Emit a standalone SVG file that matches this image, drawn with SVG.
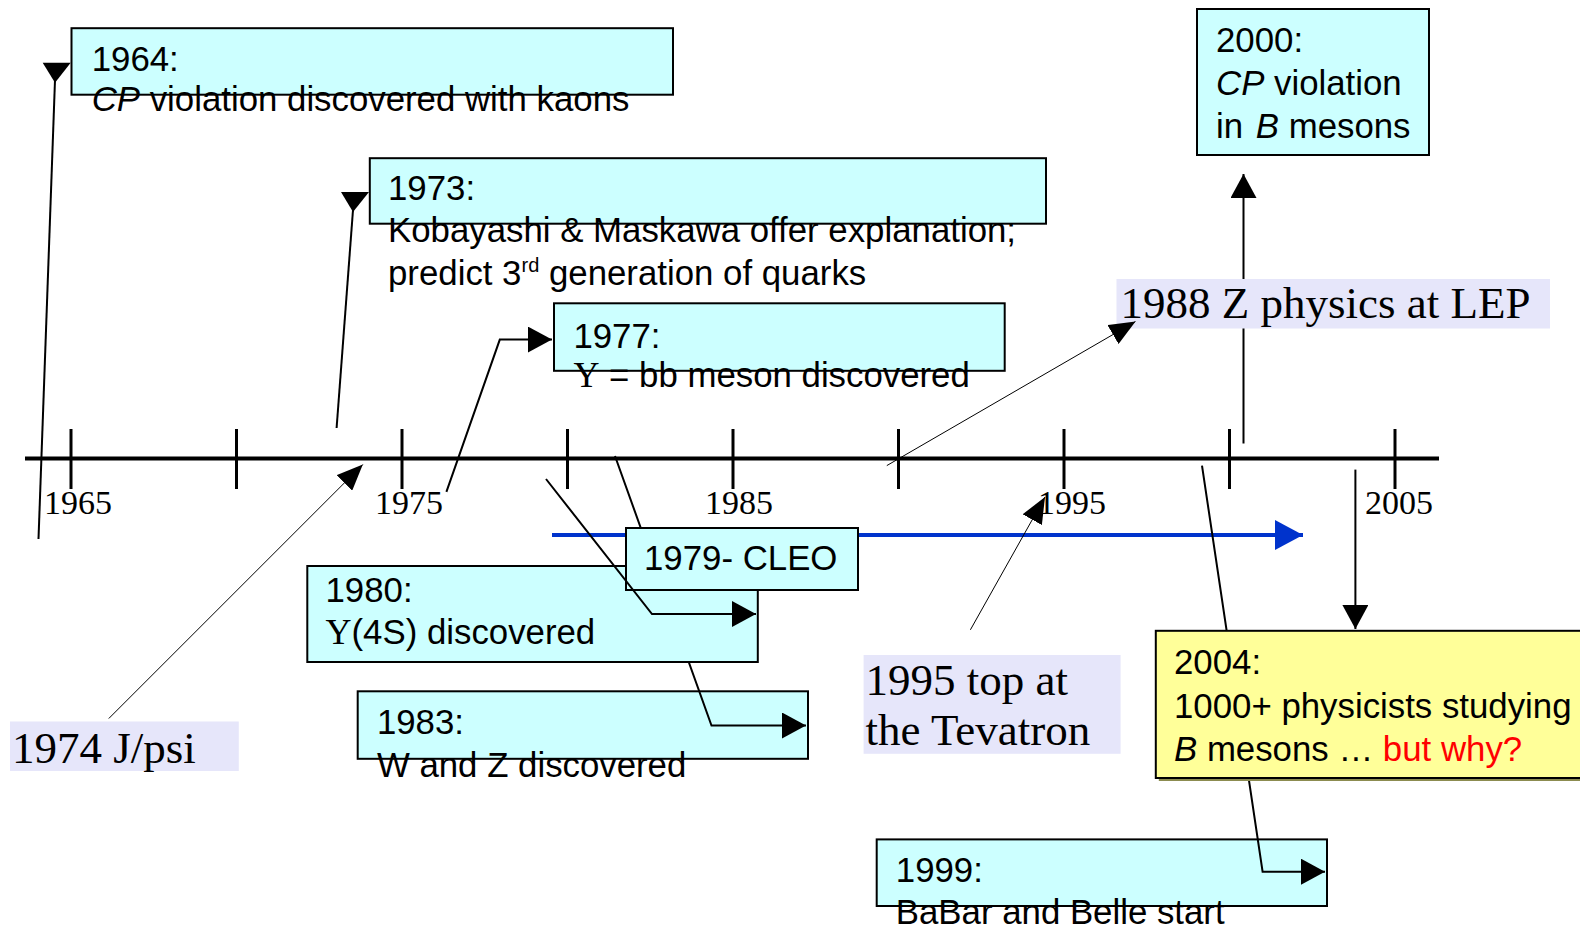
<svg xmlns="http://www.w3.org/2000/svg" width="1580" height="928" viewBox="0 0 1580 928">
<defs>
<style>
.box{fill:#CCFFFF;stroke:#000;stroke-width:2}
.ybox{fill:#FFFF99;stroke:#000;stroke-width:2}
.lab{fill:#E6E6FA;stroke:none}
.sans{font-family:"Liberation Sans",Arial,sans-serif;font-size:34.8px;fill:#000}
.serif{font-family:"Liberation Serif","Times New Roman",serif;fill:#000}
.big{font-size:45px}
.axl{font-size:34px}
.conn{fill:none;stroke:#000;stroke-width:2}
.thin{fill:none;stroke:#000;stroke-width:1}
.tick{stroke:#000;stroke-width:3}
</style>
<marker id="ah" markerUnits="userSpaceOnUse" markerWidth="24" markerHeight="26" viewBox="0 0 24 26" refX="24" refY="13" orient="auto"><path d="M0,0 L24,13 L0,26 z" fill="#000"/></marker>
<marker id="ahThin" markerUnits="userSpaceOnUse" markerWidth="26" markerHeight="22" viewBox="0 0 26 22" refX="26" refY="11" orient="auto"><path d="M0,0 L26,11 L0,22 z" fill="#000"/></marker>
<marker id="ahBlue" markerUnits="userSpaceOnUse" markerWidth="28" markerHeight="30" viewBox="0 0 28 30" refX="28" refY="15" orient="auto"><path d="M0,0 L28,15 L0,30 z" fill="#0033CC"/></marker>
</defs>
<rect width="1580" height="928" fill="#fff"/>

<g id="axis">
<line x1="25" y1="458.5" x2="1439" y2="458.5" stroke="#000" stroke-width="4"/>
<line class="tick" x1="71" y1="429" x2="71" y2="489"/>
<line class="tick" x1="236.5" y1="429" x2="236.5" y2="489"/>
<line class="tick" x1="402" y1="429" x2="402" y2="489"/>
<line class="tick" x1="567.5" y1="429" x2="567.5" y2="489"/>
<line class="tick" x1="733" y1="429" x2="733" y2="489"/>
<line class="tick" x1="898.5" y1="429" x2="898.5" y2="489"/>
<line class="tick" x1="1064" y1="429" x2="1064" y2="489"/>
<line class="tick" x1="1229.5" y1="429" x2="1229.5" y2="489"/>
<line class="tick" x1="1395" y1="429" x2="1395" y2="489"/>
<text class="serif axl" x="44" y="514">1965</text>
<text class="serif axl" x="375" y="514">1975</text>
<text class="serif axl" x="705" y="514">1985</text>
<text class="serif axl" x="1038" y="514">1995</text>
<text class="serif axl" x="1365" y="514">2005</text>
</g>

<g id="connectors">
<line class="conn" x1="38.5" y1="539" x2="55" y2="80"/>
<polygon points="42.7,62.7 70.7,62.7 55,82.7" fill="#000"/>
<line class="conn" x1="336.6" y1="428" x2="353" y2="210"/>
<polygon points="341,192 369,192 353,212" fill="#000"/>
<polyline class="conn" points="446.4,491.8 499.8,339.6 552,339.6" marker-end="url(#ah)"/>
<line class="conn" x1="1243.5" y1="443.4" x2="1243.5" y2="174" marker-end="url(#ah)"/>
<line x1="552" y1="535" x2="1303" y2="535" stroke="#0033CC" stroke-width="4" marker-end="url(#ahBlue)"/>
<line class="conn" x1="1355.4" y1="469.6" x2="1355.4" y2="629" marker-end="url(#ah)"/>
</g>

<g id="n1964">
<rect class="box" x="71.5" y="28.2" width="601.5" height="66.5"/>
<text class="sans" x="91.7" y="70.5">1964:</text>
<text class="sans" x="91.7" y="111"><tspan font-style="italic">CP</tspan> violation discovered with kaons</text>
</g>

<g id="n1973">
<rect class="box" x="369.8" y="158.2" width="676.2" height="65.5"/>
<text class="sans" x="388" y="199.5">1973:</text>
<text class="sans" x="388" y="242">Kobayashi &amp; Maskawa offer explanation;</text>
<text class="sans" x="388" y="285">predict 3<tspan font-size="20" dy="-13">rd</tspan><tspan dy="13"> generation of quarks</tspan></text>
</g>

<g id="n1977">
<rect class="box" x="554" y="303.3" width="450.7" height="67.5"/>
<text class="sans" x="573.4" y="347.7">1977:</text>
<text class="sans" x="573.4" y="387"><tspan class="serif" font-size="36">Υ</tspan> = bb meson discovered</text>
</g>

<g id="n2000">
<rect class="box" x="1197" y="9" width="232" height="146"/>
<text class="sans" x="1216" y="52.4">2000:</text>
<text class="sans" x="1216" y="94.7"><tspan font-style="italic">CP</tspan> violation</text>
<text class="sans" x="1216" y="138">in <tspan dx="3" font-style="italic">B</tspan> mesons</text>
</g>

<g id="n1988">
<rect class="lab" x="1116.5" y="279" width="433.5" height="49.5"/>
<text class="serif big" x="1120.6" y="318.4">1988 Z physics at LEP</text>
</g>

<g id="n1983">
<rect class="box" x="357.7" y="691.3" width="450.3" height="67.5"/>
<text class="sans" x="376.9" y="733.6">1983:</text>
<text class="sans" x="376.9" y="777">W and Z discovered</text>
</g>

<g id="n1999">
<rect class="box" x="876.7" y="839.4" width="450.3" height="66.6"/>
<text class="sans" x="895.8" y="881.7">1999:</text>
<text class="sans" x="895.8" y="924">BaBar and Belle start</text>
</g>

<g id="connectors-mid">
<polyline class="conn" points="615,456 711.5,725.5 806,725.5" marker-end="url(#ah)"/>
<polyline class="conn" points="1202,465.6 1262.6,871.7 1325,871.7" marker-end="url(#ah)"/>
</g>

<g id="n1980">
<rect class="box" x="307.3" y="566" width="450.5" height="96"/>
<text class="sans" x="325.5" y="601.6">1980:</text>
<text class="sans" x="325.5" y="644"><tspan class="serif" font-size="36">Υ</tspan>(4S) discovered</text>
</g>

<g id="n1979">
<rect class="box" x="626" y="528" width="232" height="62"/>
<text class="sans" x="644" y="570">1979- CLEO</text>
</g>

<g id="n1974">
<rect class="lab" x="10" y="721.5" width="228.8" height="49.5"/>
<text class="serif big" x="12" y="763">1974 J/psi</text>
</g>

<g id="n1995">
<rect class="lab" x="863.6" y="655" width="257" height="98.8"/>
<text class="serif big" x="865.6" y="695.3">1995 top at</text>
<text class="serif big" x="865.6" y="744.7">the Tevatron</text>
</g>

<g id="n2004">
<rect x="1158.8" y="633.8" width="440" height="147.2" fill="#8C8C50"/>
<rect class="ybox" x="1155.8" y="630.8" width="440" height="147.2"/>
<text class="sans" x="1174" y="674">2004:</text>
<text class="sans" x="1174" y="717.5">1000+ physicists studying</text>
<text class="sans" x="1174" y="760.8"><tspan font-style="italic">B</tspan> mesons … <tspan fill="#FF0000">but why?</tspan></text>
</g>

<g id="connectors-top">
<polyline class="conn" points="546,479 652,614 756,614" marker-end="url(#ah)"/>
<line class="thin" x1="108.8" y1="718.5" x2="362.8" y2="464.5" marker-end="url(#ahThin)"/>
<line class="thin" x1="886.8" y1="465.6" x2="1135.5" y2="321.5" marker-end="url(#ahThin)"/>
<line class="thin" x1="970.4" y1="629.8" x2="1045" y2="497" marker-end="url(#ahThin)"/>
</g>
</svg>
